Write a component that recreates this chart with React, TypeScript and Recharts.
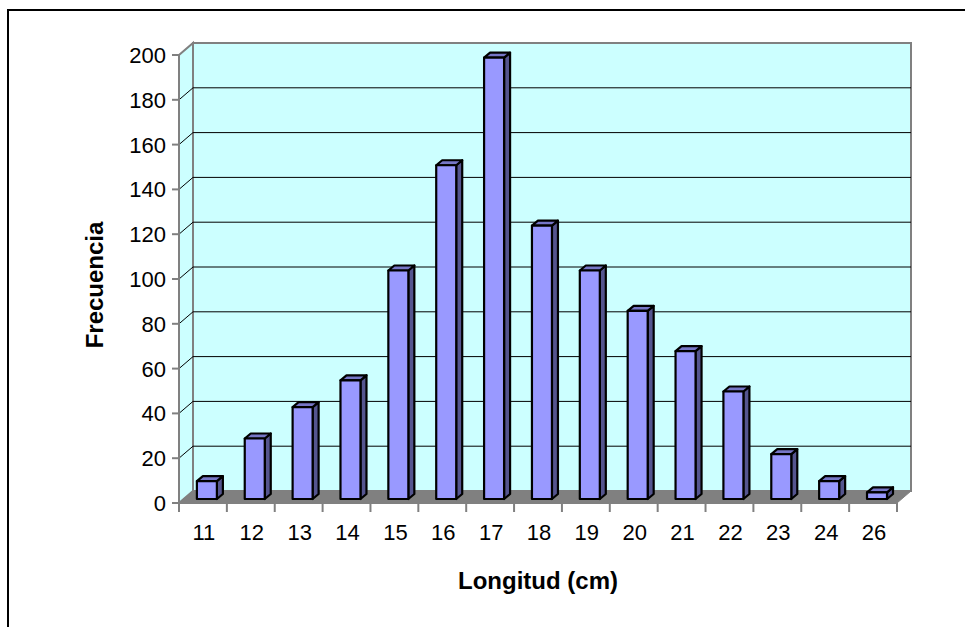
import { BarChart, Bar, XAxis, YAxis, CartesianGrid } from "recharts";

const categories = ["11", "12", "13", "14", "15", "16", "17", "18", "19", "20", "21", "22", "23", "24", "26"];
const frequencies = [8, 27, 41, 53, 102, 149, 197, 122, 102, 84, 66, 48, 20, 8, 3];
const yTicks = [0, 20, 40, 60, 80, 100, 120, 140, 160, 180, 200];

const data = categories.map((c, i) => ({ longitud: c, frecuencia: frequencies[i] }));

const W = 965;
const H = 627;
// front plane of the 3D box (where the axes sit)
const PLOT = { left: 179, right: 897, top: 55, bottom: 503 };
// wall depth offset
const DEPTH = { x: 14, y: 12 };
// bars sit a bit behind the front plane and have their own small depth
const BAR_OFF = { x: 4, y: 4 };
const BAR_DEPTH = { x: 6, y: 5 };
const BAND = (PLOT.right - PLOT.left) / categories.length;

const Y_AXIS_W = 60;
const X_AXIS_H = 40;
const FONT = "'Liberation Sans', Arial, sans-serif";

function Bar3D(props: any) {
  const { x, y, width, height } = props;
  if (width == null || height == null) return null;
  const fx = x + BAR_OFF.x;
  const fy = y - BAR_OFF.y;
  const dx = BAR_DEPTH.x;
  const dy = BAR_DEPTH.y;
  const top = `${fx},${fy} ${fx + dx},${fy - dy} ${fx + width + dx},${fy - dy} ${fx + width},${fy}`;
  const side = `${fx + width},${fy} ${fx + width + dx},${fy - dy} ${fx + width + dx},${fy + height - dy} ${fx + width},${fy + height}`;
  return (
    <g stroke="#000" strokeWidth={2.2} strokeLinejoin="round">
      <polygon points={side} fill="#55558F" />
      <polygon points={top} fill="#7676C6" />
      <rect x={fx} y={fy} width={width} height={height} fill="#9999FF" />
    </g>
  );
}

function XTick({ x, payload, index }: any) {
  const half = BAND / 2;
  const last = index === categories.length - 1;
  return (
    <g>
      <line x1={x - half} y1={PLOT.bottom} x2={x - half} y2={PLOT.bottom + 9} stroke="#808080" strokeWidth={2} />
      {last && (
        <line x1={x + half} y1={PLOT.bottom} x2={x + half} y2={PLOT.bottom + 9} stroke="#808080" strokeWidth={2} />
      )}
      <text x={x + 1} y={PLOT.bottom + 37} textAnchor="middle" fontSize={22} fontFamily={FONT} fill="#000">
        {payload.value}
      </text>
    </g>
  );
}

function YTick({ y, payload }: any) {
  return (
    <text x={166} y={y + 8} textAnchor="end" fontSize={22} fontFamily={FONT} fill="#000">
      {payload.value}
    </text>
  );
}

function WallLine(p: any) {
  const { x1, y1, x2, index } = p;
  if (Math.abs(y1 - PLOT.bottom) < 1 || Math.abs(y1 - PLOT.top) < 1) return <g key={`g-${index}`} />;
  return (
    <g key={`g-${index}`} stroke="#000" strokeWidth={1}>
      <line x1={x1 + DEPTH.x} y1={y1 - DEPTH.y} x2={x2 + DEPTH.x} y2={y1 - DEPTH.y} />
      <line x1={x1} y1={y1} x2={x1 + DEPTH.x} y2={y1 - DEPTH.y} />
    </g>
  );
}

function Walls() {
  const bl = PLOT.left + DEPTH.x;
  const br = PLOT.right + DEPTH.x;
  const bt = PLOT.top - DEPTH.y;
  const bb = PLOT.bottom - DEPTH.y;
  return (
    <svg width={W} height={H} style={{ position: "absolute", left: 0, top: 0 }}>
      <polygon
        points={`${PLOT.left},${PLOT.top} ${bl},${bt} ${bl},${bb} ${PLOT.left},${PLOT.bottom}`}
        fill="#CCFFFF"
        stroke="#808080"
        strokeWidth={2}
      />
      <rect x={bl} y={bt} width={br - bl} height={bb - bt} fill="#CCFFFF" stroke="#808080" strokeWidth={2} />
      <polygon
        points={`${PLOT.left},${PLOT.bottom} ${PLOT.right},${PLOT.bottom} ${br},${bb} ${bl},${bb}`}
        fill="#808080"
        stroke="#808080"
        strokeWidth={1}
      />
      <text
        x={0}
        y={0}
        transform={`translate(103, 285) rotate(-90)`}
        textAnchor="middle"
        fontSize={24}
        fontWeight="bold"
        fontFamily={FONT}
        fill="#000"
      >
        Frecuencia
      </text>
      <text x={538} y={589} textAnchor="middle" fontSize={24} fontWeight="bold" fontFamily={FONT} fill="#000">
        Longitud (cm)
      </text>
    </svg>
  );
}

export default function App() {
  return (
    <div style={{ position: "fixed", left: 0, top: 0, width: W, height: H, overflow: "hidden", background: "#fff" }}>
      <div
        style={{
          position: "absolute",
          left: 7,
          top: 9,
          width: W + 100,
          height: H + 100,
          border: "2px solid #000",
        }}
      />
      <Walls />
      <div style={{ position: "absolute", left: 0, top: 0 }}>
        <BarChart
          width={W}
          height={H}
          data={data}
          margin={{
            top: PLOT.top,
            right: W - PLOT.right,
            bottom: H - PLOT.bottom - X_AXIS_H,
            left: PLOT.left - Y_AXIS_W,
          }}
          barCategoryGap="29%"
        >
          <CartesianGrid vertical={false} horizontal={WallLine} />
          <XAxis
            dataKey="longitud"
            height={X_AXIS_H}
            axisLine={{ stroke: "#808080", strokeWidth: 2 }}
            tickLine={false}
            tick={<XTick />}
            interval={0}
          />
          <YAxis
            width={Y_AXIS_W}
            domain={[0, 200]}
            ticks={yTicks}
            interval={0}
            axisLine={{ stroke: "#808080", strokeWidth: 2 }}
            tickLine={{ stroke: "#808080", strokeWidth: 2 }}
            tickSize={7}
            tick={<YTick />}
          />
          <Bar dataKey="frecuencia" shape={<Bar3D />} isAnimationActive={false} />
        </BarChart>
      </div>
    </div>
  );
}
